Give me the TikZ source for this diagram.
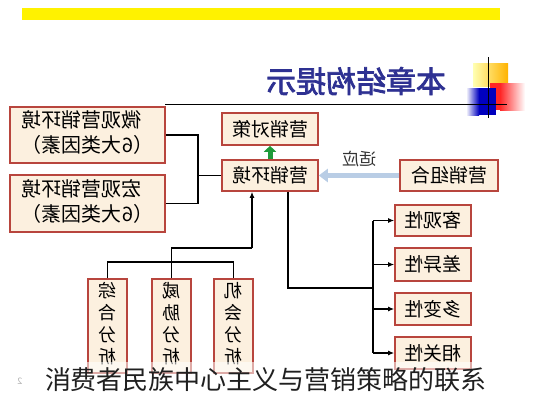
\documentclass[tikz,border=0pt]{standalone}
\usepackage{fontspec}
\usepackage{graphicx}
\usetikzlibrary{arrows.meta,positioning,shadows}
\newfontfamily\cjk{Noto Sans CJK SC}
\newfontfamily\cjktitle[FakeBold=2.5]{Noto Sans CJK SC}
\definecolor{boxred}{HTML}{B8453D}
\definecolor{boxfill}{HTML}{FCF0DF}
\definecolor{titleblue}{HTML}{2E3192}
\definecolor{fitblue}{HTML}{B9CDE5}
\definecolor{upgreen}{HTML}{1E9A3A}
\newcommand{\mir}[1]{\reflectbox{#1}}
\tikzset{
  box/.style={draw=boxred, fill=boxfill, line width=1.6pt, inner sep=0pt,
    font=\cjk\fontsize{19}{24}\selectfont,
    drop shadow={shadow xshift=0.8pt, shadow yshift=-0.8pt, opacity=.3}},
  wire/.style={line width=1.5pt, black},
  tip/.style={-{Latex[length=6pt,width=5pt]}}
}
\begin{document}
\begin{tikzpicture}[x=1pt,y=-1pt]
        \useasboundingbox (0,0) rectangle (533,400);
        % heading
        \fill[yellow] (22,8) rectangle (500,20);
        \shade[left color=yellow!30, right color=orange!60!yellow] (473,63) rectangle (508,86);
        \fill[red!85] (490,83) rectangle (500,110);
        \shade[left color=red!85, right color=white] (500,83) rectangle (525,110);
        \shade[left color=white, right color=blue!75!black] (466,88) rectangle (479,115);
        \fill[blue!75!black] (479,88) rectangle (496,115);
        \draw[line width=1pt] (488,57) -- (488,118);
        \draw[line width=1pt] (165,104) -- (507,104);
        \node[font=\cjktitle\fontsize{30}{30}\selectfont, text=titleblue] (ttl) at (356,81) {\mir{本章结构提示}};

        % boxes
        \node[box, minimum width=96, minimum height=32] (duice) at (270,129) {\mir{营销对策}};
        \node[box, minimum width=96, minimum height=31] (huanjing) at (270,175.5) {\mir{营销环境}};
        \node[box, minimum width=98, minimum height=31] (zuhe) at (449,175.5) {\mir{营销组合}};
        \node[box, minimum width=155, minimum height=56, font=\cjk\fontsize{20}{25}\selectfont] (weiguan) at (87.5,135)
            {\mir{\begin{tabular}{@{}r@{}}微观营销环境\\（6大类因素）\end{tabular}}};
        \node[box, minimum width=155, minimum height=57, font=\cjk\fontsize{20}{25}\selectfont] (hongguan) at (87.5,203.5)
            {\mir{\begin{tabular}{@{}r@{}}宏观营销环境\\（6大类因素）\end{tabular}}};
        \node[box, minimum width=76, minimum height=31] (keguan) at (433,220.5) {\mir{客观性}};
        \node[box, minimum width=76, minimum height=33] (chayi) at (433,264.5) {\mir{差异性}};
        \node[box, minimum width=76, minimum height=32] (duobian) at (433,309) {\mir{多变性}};
        \node[box, minimum width=76, minimum height=32] (xiangguan) at (433,353) {\mir{相关性}};
        \node[box, minimum width=39, minimum height=94, font=\cjk\fontsize{18}{22}\selectfont] (zonghe) at (107.5,326)
            {\mir{\begin{tabular}{@{}c@{}}综\\合\\分\\析\end{tabular}}};
        \node[box, minimum width=39, minimum height=94, font=\cjk\fontsize{18}{22}\selectfont] (weixie) at (171.5,326)
            {\mir{\begin{tabular}{@{}c@{}}威\\胁\\分\\析\end{tabular}}};
        \node[box, minimum width=39, minimum height=94, font=\cjk\fontsize{18}{22}\selectfont] (jihui) at (233.5,326)
            {\mir{\begin{tabular}{@{}c@{}}机\\会\\分\\析\end{tabular}}};

        % connectors
        \draw[upgreen, line width=5pt, -{Triangle[length=6pt,width=12pt]}] (huanjing.north) -- (duice.south);
        \draw[fitblue, line width=5pt, -{Triangle[length=9pt,width=13pt]}] (zuhe.west) -- (huanjing.east)
            node[midway, above=3pt, text=black!80, font=\cjk\fontsize{17}{17}\selectfont] (shiying) {\mir{适应}};

        \coordinate (jl) at (198,175.5);
        \draw[wire] (weiguan.east) -| (jl);
        \draw[wire] (hongguan.east) -| (jl);
        \draw[wire] (jl) -- (huanjing.west);

        \coordinate (bus) at (171.5,262);
        \coordinate (fx) at (171.5,248);
        \coordinate (fy) at (252,248);
        \draw[wire] (zonghe.north) |- (bus) -| (jihui.north);
        \draw[wire] (weixie.north) -- (fx) -- (fy);
        \draw[wire, tip] (fy) -- (fy |- huanjing.south);

        \coordinate (ra) at (288,288);
        \coordinate (rb) at (373,288);
        \draw[wire] (ra |- huanjing.south) -- (ra) -- (rb);
        \draw[wire] (rb |- keguan) -- (rb |- xiangguan);
        \foreach \n in {keguan, chayi, duobian, xiangguan}
            \draw[wire, tip] (rb |- \n) -- (\n.west);

        % caption
        \fill[white, opacity=.55] (0,362) rectangle (533,400);
        \node[text=gray!25!black, font=\cjk\fontsize{26}{26}\selectfont] (caption) at (266,380) {消费者民族中心主义与营销策略的联系};
        \node[text=gray!60, font=\cjk\fontsize{9}{9}\selectfont] (pageno) at (20,381) {\mir{2}};
      \end{tikzpicture}
\end{document}
